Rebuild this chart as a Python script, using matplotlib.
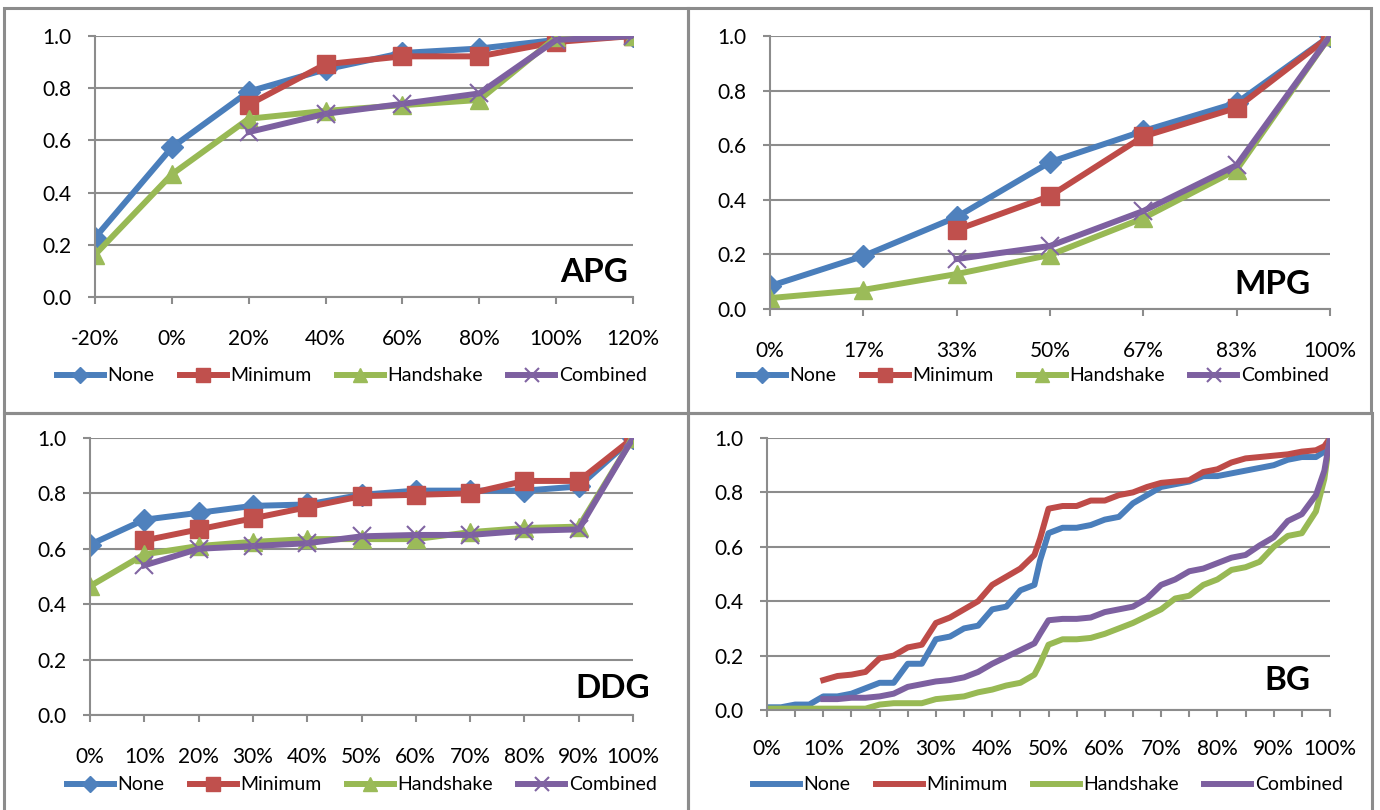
import matplotlib.pyplot as plt
import numpy as np
from matplotlib.patches import Rectangle

plt.rcParams["font.family"] = ["Lato", "DejaVu Sans"]

nan = np.nan
series_names = ["None", "Minimum", "Handshake", "Combined"]
line_colors = ["#4A7EBB", "#BE4B48", "#98B954", "#7D60A0"]
marker_colors = ["#4F81BD", "#C0504D", "#9BBB59", "#8064A2"]
markers = ["D", "s", "^", "x"]

# APG
apg_labels = ["-20%", "0%", "20%", "40%", "60%", "80%", "100%", "120%"]
apg_none = [0.227, 0.573, 0.787, 0.872, 0.935, 0.952, 0.985, 1.0]
apg_minimum = [nan, nan, 0.737, 0.892, 0.922, 0.922, 0.977, 1.0]
apg_handshake = [0.162, 0.47, 0.683, 0.713, 0.735, 0.755, 0.995, 1.0]
apg_combined = [nan, nan, 0.632, 0.702, 0.74, 0.78, 0.985, 1.0]

# MPG
mpg_labels = ["0%", "17%", "33%", "50%", "67%", "83%", "100%"]
mpg_none = [0.084, 0.194, 0.337, 0.538, 0.652, 0.755, 1.0]
mpg_minimum = [nan, nan, 0.29, 0.414, 0.632, 0.737, 1.0]
mpg_handshake = [0.04, 0.07, 0.128, 0.198, 0.333, 0.51, 1.0]
mpg_combined = [nan, nan, 0.183, 0.231, 0.359, 0.527, 1.0]

# DDG
ddg_labels = ["0%", "10%", "20%", "30%", "40%", "50%", "60%", "70%", "80%", "90%", "100%"]
ddg_none = [0.615, 0.705, 0.73, 0.755, 0.76, 0.795, 0.81, 0.81, 0.81, 0.825, 1.0]
ddg_minimum = [nan, 0.63, 0.67, 0.71, 0.75, 0.79, 0.795, 0.80, 0.845, 0.845, 1.0]
ddg_handshake = [0.465, 0.58, 0.61, 0.625, 0.635, 0.635, 0.635, 0.66, 0.675, 0.68, 1.0]
ddg_combined = [nan, 0.54, 0.60, 0.61, 0.62, 0.645, 0.65, 0.65, 0.665, 0.67, 1.0]

# BG (percent positions along the axis)
bg_x = [0, 2.5, 5, 7.5, 10, 12.5, 15, 17.5, 20, 22.5, 25, 27.5, 30, 32.5, 35, 37.5,
        40, 42.5, 45, 47.5, 48.5, 50, 52.5, 55, 57.5, 60, 62.5, 65, 67.5, 70, 72.5,
        75, 77.5, 80, 82.5, 85, 87.5, 90, 92.5, 95, 97.5, 99, 100]
bg_labels = ["0%", "10%", "20%", "30%", "40%", "50%", "60%", "70%", "80%", "90%", "100%"]
bg_none = [0.01, 0.01, 0.02, 0.02, 0.05, 0.05, 0.06, 0.08, 0.10, 0.10, 0.17, 0.17, 0.26,
           0.27, 0.30, 0.31, 0.37, 0.38, 0.44, 0.46, 0.55, 0.65, 0.67, 0.67, 0.68, 0.70,
           0.71, 0.76, 0.79, 0.82, 0.83, 0.84, 0.86, 0.86, 0.87, 0.88, 0.89, 0.90, 0.92,
           0.93, 0.93, 0.95, 1.0]
bg_minimum = [nan, nan, nan, nan, 0.11, 0.125, 0.13, 0.14, 0.19, 0.20, 0.23, 0.24, 0.32,
              0.34, 0.37, 0.40, 0.46, 0.49, 0.52, 0.57, 0.63, 0.74, 0.75, 0.75, 0.77, 0.77,
              0.79, 0.80, 0.82, 0.835, 0.84, 0.845, 0.875, 0.885, 0.91, 0.925, 0.93, 0.935,
              0.94, 0.95, 0.955, 0.97, 1.0]
bg_handshake = [0.005, 0.005, 0.005, 0.005, 0.005, 0.005, 0.005, 0.005, 0.02, 0.025, 0.025,
                0.025, 0.04, 0.045, 0.05, 0.065, 0.075, 0.09, 0.10, 0.13, 0.17, 0.24, 0.26,
                0.26, 0.265, 0.28, 0.30, 0.32, 0.345, 0.37, 0.41, 0.42, 0.46, 0.48, 0.515,
                0.525, 0.545, 0.60, 0.64, 0.65, 0.73, 0.85, 1.0]
bg_combined = [nan, nan, nan, nan, 0.04, 0.04, 0.045, 0.045, 0.05, 0.06, 0.085, 0.095, 0.105,
               0.11, 0.12, 0.14, 0.17, 0.195, 0.22, 0.245, 0.28, 0.33, 0.335, 0.335, 0.34,
               0.36, 0.37, 0.38, 0.41, 0.46, 0.48, 0.51, 0.52, 0.54, 0.56, 0.57, 0.605, 0.635,
               0.695, 0.72, 0.79, 0.88, 1.0]

W, H = 1380, 810
fig = plt.figure(figsize=(13.8, 8.1), dpi=100)

# panel frames
for (x0, y0, x1, y1) in [(4, 8, 688, 413), (688, 8, 1371, 413), (4, 413, 688, 812), (688, 413, 1372, 812)]:
    fig.patches.append(Rectangle((x0 / W, 1 - y1 / H), (x1 - x0) / W, (y1 - y0) / H,
                                 transform=fig.transFigure, fill=False, edgecolor="#8C8C8C", lw=2.2))


def px_axes(left, right, top, bottom):
    return fig.add_axes([left / W, 1 - bottom / H, (right - left) / W, (bottom - top) / H])


def style(ax, tag, tag_xy, label_pad):
    ax.set_ylim(0, 1.0)
    ax.set_yticks(np.arange(0, 1.01, 0.2))
    ax.set_yticklabels([f"{v:.1f}" for v in np.arange(0, 1.01, 0.2)])
    ax.grid(axis="y", color="#8C8C8C", lw=1.5)
    ax.set_axisbelow(True)
    for s in ["top", "right"]:
        ax.spines[s].set_visible(False)
    for s in ["left", "bottom"]:
        ax.spines[s].set_color("#8C8C8C")
        ax.spines[s].set_linewidth(1.5)
    ax.tick_params(axis="both", colors="#8C8C8C", labelcolor="black", labelsize=15,
                   length=5, width=1.5, direction="out")
    ax.tick_params(axis="x", pad=label_pad)
    ax.tick_params(axis="y", pad=12)
    ax.text(tag_xy[0] / W, 1 - tag_xy[1] / H, tag, transform=fig.transFigure,
            fontsize=24, fontweight="bold", ha="center", va="center")


def legend(ax, cx, cy):
    ax.legend(loc="center", bbox_to_anchor=(cx / W, 1 - cy / H), bbox_transform=fig.transFigure,
              ncol=4, frameon=False, fontsize=14, handlelength=2.4, handletextpad=0.2,
              columnspacing=1.3, borderaxespad=0, markerscale=0.75)


def cat_panel(ax, labels, data, tag, tag_xy, label_pad, leg_xy):
    x = np.arange(len(labels))
    for vals, name, lc, mc, mk in zip(data, series_names, line_colors, marker_colors, markers):
        ms = 11 if mk == "D" else 13
        ax.plot(x, vals, color=lc, lw=4.3, marker=mk, ms=ms, mfc=mc, mec=mc,
                mew=1.5 if mk == "x" else 1, label=name, solid_joinstyle="round")
    ax.set_xlim(0, len(labels) - 1)
    ax.set_xticks(x)
    ax.set_xticklabels(labels)
    style(ax, tag, tag_xy, label_pad)
    legend(ax, *leg_xy)


ax1 = px_axes(95, 633, 36, 297)
cat_panel(ax1, apg_labels, [apg_none, apg_minimum, apg_handshake, apg_combined],
          "APG", (594, 272), 18, (352, 376))

ax2 = px_axes(770, 1330, 36, 309)
cat_panel(ax2, mpg_labels, [mpg_none, mpg_minimum, mpg_handshake, mpg_combined],
          "MPG", (1272, 285), 18, (1034, 376))

ax3 = px_axes(90, 633, 438, 715)
cat_panel(ax3, ddg_labels, [ddg_none, ddg_minimum, ddg_handshake, ddg_combined],
          "DDG", (613, 688), 18, (362, 785))

ax4 = px_axes(767, 1330, 438, 710)
for vals, name, lc in zip([bg_none, bg_minimum, bg_handshake, bg_combined], series_names, line_colors):
    ax4.plot(bg_x, vals, color=lc, lw=4.3, label=name, solid_joinstyle="round")
ax4.set_xlim(0, 100)
ax4.set_xticks(np.arange(0, 101, 10))
ax4.set_xticklabels(bg_labels)
ax4.set_xticks(np.arange(5, 100, 10), minor=True)
ax4.tick_params(axis="x", which="minor", length=5, width=1.5, colors="#8C8C8C", direction="out")
style(ax4, "BG", (1287, 680), 16)
legend(ax4, 1048, 785)

fig.savefig("out.png", dpi=100)
